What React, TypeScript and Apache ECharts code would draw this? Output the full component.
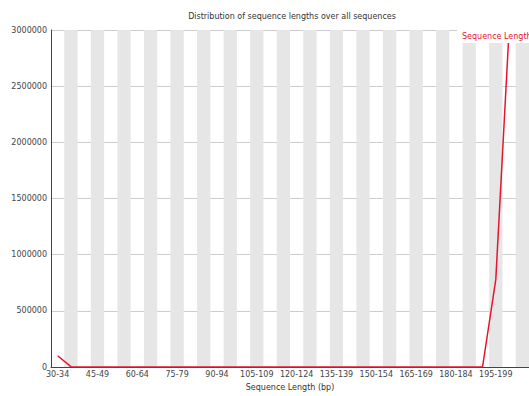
import React, { useEffect, useRef } from "react";
import * as echarts from "echarts";

const categories: string[] = [
  "30-34", "35-39", "40-44", "45-49", "50-54", "55-59", "60-64", "65-69", "70-74",
  "75-79", "80-84", "85-89", "90-94", "95-99", "100-104", "105-109", "110-114",
  "115-119", "120-124", "125-129", "130-134", "135-139", "140-144", "145-149",
  "150-154", "155-159", "160-164", "165-169", "170-174", "175-179", "180-184",
  "185-189", "190-194", "195-199", "200-204", "205-209",
];

const sequenceLengthCounts: (number | null)[] = [
  100000, 3000, 0, 0, 0, 0, 0, 0, 0,
  0, 0, 0, 0, 0, 0, 0, 0,
  0, 0, 0, 0, 0, 0, 0,
  0, 0, 0, 0, 0, 0, 0,
  0, 0, 780000, 3000000, null,
];

const yTicks = { min: 0, max: 3000000, interval: 500000 };

const titleText = "Distribution of sequence lengths over all sequences";
const xAxisTitle = "Sequence Length (bp)";
const seriesName = "Sequence Length";

const FONT = "DejaVu Sans";
const LINE_COLOR = "#e8142f";

export default function App() {
  const ref = useRef<HTMLDivElement>(null);

  useEffect(() => {
    if (!ref.current) return;
    const chart = echarts.init(ref.current, null, { renderer: "svg" });
    chart.setOption({
      animation: false,
      backgroundColor: "#ffffff",
      textStyle: { fontFamily: FONT },
      title: {
        text: titleText,
        left: 292,
        top: 12,
        padding: 0,
        textAlign: "center",
        textStyle: { fontSize: 8, fontWeight: "normal", color: "#333", fontFamily: FONT },
      },
      legend: {
        data: [seriesName],
        left: 457,
        top: 29,
        icon: "none",
        itemWidth: 0,
        itemHeight: 0,
        itemGap: 0,
        padding: [3, 20, 3, 0],
        backgroundColor: "#ffffff",
        textStyle: { fontSize: 8, color: LINE_COLOR, fontFamily: FONT, padding: 0 },
      },
      grid: { left: 51, right: 0, top: 30, bottom: 24, containLabel: false },
      xAxis: {
        type: "category",
        data: categories,
        boundaryGap: true,
        name: xAxisTitle,
        nameLocation: "middle",
        nameGap: 16,
        nameTextStyle: { fontSize: 8, color: "#333", fontFamily: FONT },
        axisLine: { show: true, lineStyle: { color: "#444", width: 1 } },
        axisTick: { show: false },
        axisLabel: {
          interval: 2,
          fontSize: 8,
          color: "#444",
          margin: 3,
          fontFamily: FONT,
        },
        splitLine: { show: false },
        splitArea: {
          show: true,
          interval: 0,
          areaStyle: { color: ["rgba(255,255,255,0)", "#e6e6e6"] },
        },
      },
      yAxis: {
        type: "value",
        min: yTicks.min,
        max: yTicks.max,
        interval: yTicks.interval,
        axisLine: { show: true, lineStyle: { color: "#444", width: 1 } },
        axisTick: { show: false },
        axisLabel: {
          fontSize: 8,
          color: "#444",
          margin: 4,
          fontFamily: FONT,
          formatter: (v: number) => String(v),
        },
        splitLine: { show: true, lineStyle: { color: "#cccccc", width: 1 } },
      },
      series: [
        {
          name: seriesName,
          type: "line",
          data: sequenceLengthCounts,
          symbol: "none",
          connectNulls: false,
          lineStyle: { color: LINE_COLOR, width: 1.5 },
          itemStyle: { color: LINE_COLOR },
          z: 3,
        },
      ],
    });
    return () => chart.dispose();
  }, []);

  return (
    <div
      ref={ref}
      style={{ position: "fixed", left: 0, top: 0, width: 529, height: 396 }}
    />
  );
}
